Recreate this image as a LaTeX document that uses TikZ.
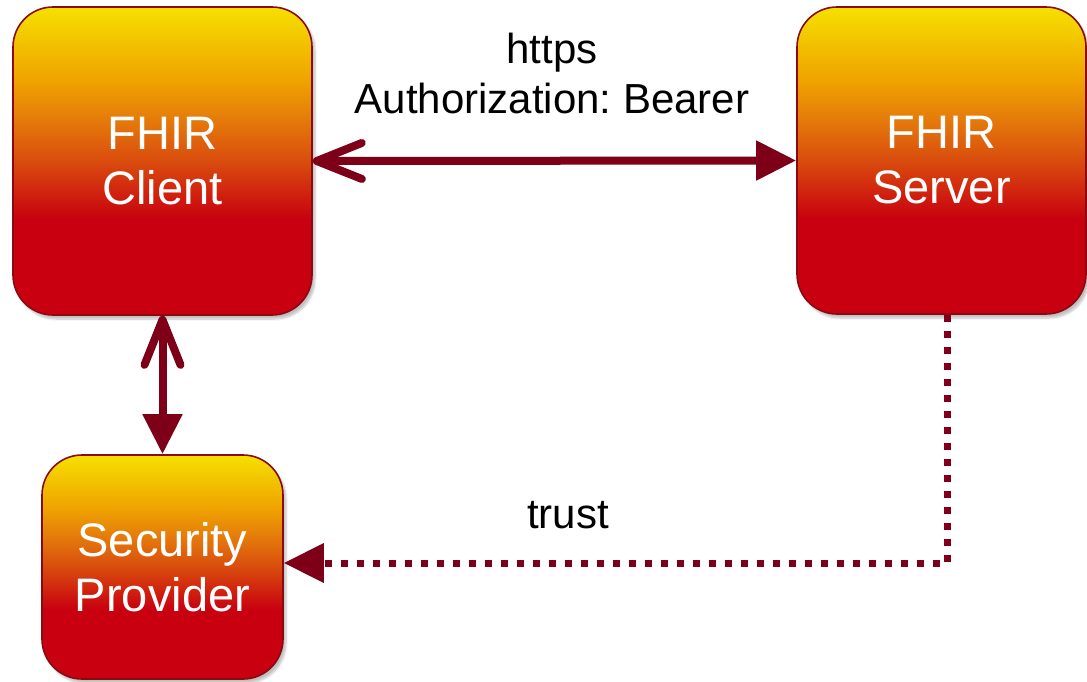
\documentclass[tikz,border=0pt]{standalone}
\usepackage{fontspec}
\setmainfont{Liberation Sans}
\usetikzlibrary{arrows.meta,shadows.blur}
\frenchspacing
\definecolor{boxyellow}{HTML}{F6E000}
\definecolor{boxamber}{HTML}{EFA200}
\definecolor{boxorange}{HTML}{E6800A}
\definecolor{boxmid}{HTML}{D94C0E}
\definecolor{boxred2}{HTML}{D0200F}
\definecolor{boxred}{HTML}{C8000F}
\definecolor{edgered}{HTML}{8A0A14}
\definecolor{arrowred}{HTML}{7D0018}
\pgfdeclareverticalshading{boxshade}{100bp}{color(0bp)=(boxred); color(25bp)=(boxred); color(40.5bp)=(boxred); color(44.5bp)=(boxred2); color(50bp)=(boxmid); color(57.5bp)=(boxorange); color(63bp)=(boxamber); color(75bp)=(boxyellow); color(100bp)=(boxyellow)}
\tikzset{
  fbox/.style={draw=edgered, line width=1.6pt, rounded corners=40pt, shading=boxshade,
    text=white, align=center, font=\fontsize{47}{55}\selectfont, inner sep=0pt,
    blur shadow={shadow xshift=3pt, shadow yshift=-4pt, shadow blur steps=6, shadow opacity=25}},
  conn/.style={draw=arrowred, line width=8pt},
  lbl/.style={font=\fontsize{42}{50}\selectfont, text=black, inner sep=0pt, anchor=base},
}
\begin{document}
\begin{tikzpicture}[x=1pt,y=-1pt]
\useasboundingbox (0,0) rectangle (1087,681);
\node[fbox, minimum width=299pt, minimum height=308pt] (client) at (162.5,161) {FHIR\\Client};
\node[fbox, minimum width=289pt, minimum height=307pt] (server) at (941.5,160.5) {FHIR\\Server};
\node[fbox, minimum width=241pt, minimum height=224pt] (provider) at (162.5,567) {Security\\Provider};
\node[lbl] (https) at (552,63) {https};
\node[lbl] (auth) at (552,113) {Authorization: Bearer};
\node[lbl] (trust) at (568,528) {trust};
\draw[conn, {Straight Barb[length=45pt,width=36pt,line cap=round,line join=round]}-{Triangle[length=40pt,width=38pt]}]
  (client.east) -- (server.west);
\draw[conn, {Straight Barb[length=45pt,width=36pt,line cap=round,line join=round]}-{Triangle[length=40pt,width=38pt]}]
  (client.south) -- (provider.north);
\draw[conn, line width=7pt, dash pattern=on 7pt off 9pt, -{Triangle[length=40pt,width=38pt]}]
  ([xshift=6pt]server.south) |- ([yshift=4pt]provider.east);
\end{tikzpicture}
\end{document}
